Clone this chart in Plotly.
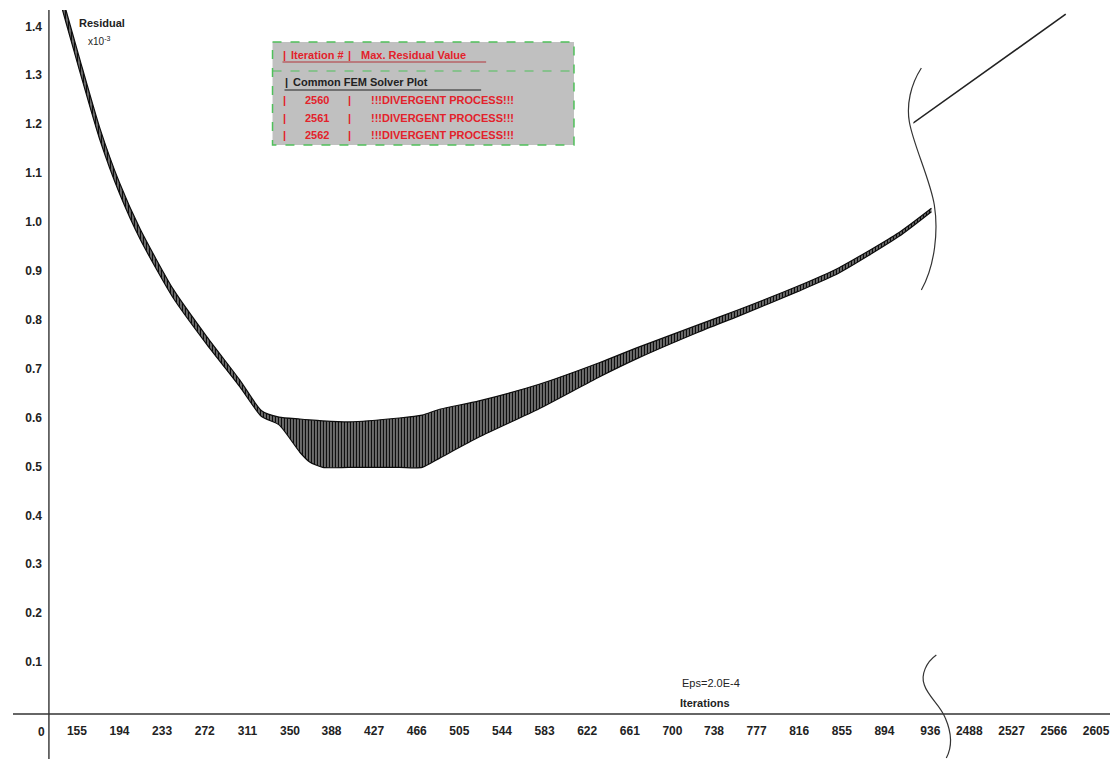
import plotly.graph_objects as go

# page body has an 8px margin: the figure is drawn in reference pixel
# coordinates shifted by that margin
OFF = 8
W, H = 1112, 751

# ---- data ----
iterations = [141, 145, 158, 176, 194, 213, 243, 274, 304, 324, 340, 359, 368, 380,
              404, 450, 471, 487, 523, 578, 633, 669, 724, 761, 815, 852, 907, 937]
residual_max = [1.464, 1.433, 1.330, 1.192, 1.080, 0.985, 0.863, 0.765, 0.677, 0.614,
                0.601, 0.597, 0.595, 0.593, 0.591, 0.599, 0.605, 0.617, 0.634, 0.668,
                0.712, 0.744, 0.790, 0.821, 0.869, 0.906, 0.978, 1.028]
residual_min = [1.440, 1.408, 1.305, 1.168, 1.058, 0.964, 0.845, 0.749, 0.663, 0.602,
                0.585, 0.529, 0.509, 0.498, 0.498, 0.498, 0.498, 0.517, 0.560, 0.618,
                0.683, 0.722, 0.775, 0.808, 0.858, 0.895, 0.970, 1.021]

late_iterations = [2436, 2577]
late_residual = [1.202, 1.425]

x_ticks_1 = [155, 194, 233, 272, 311, 350, 388, 427, 466, 505, 544, 583, 622, 661,
             700, 738, 777, 816, 855, 894, 936]
x_ticks_2 = [2488, 2527, 2566, 2605]
y_ticks = [0.1, 0.2, 0.3, 0.4, 0.5, 0.6, 0.7, 0.8, 0.9, 1.0, 1.1, 1.2, 1.3, 1.4]

table_iter = [2560, 2561, 2562]
table_status = ["!!!DIVERGENT PROCESS!!!"] * 3

# ---- helpers (reference pixel -> paper) ----
def px(x):
    return (x - OFF) / W

def py(y):
    return 1 - (y - OFF) / H

FONT = "Liberation Sans, Arial, sans-serif"
RED = "#e3222b"
INK = "#0d0d0d"

fig = go.Figure()

fig.add_trace(go.Scatter(
    x=iterations, y=residual_min, mode="lines",
    line=dict(color=INK, width=1.2, shape="spline", smoothing=0.6),
    xaxis="x", yaxis="y", showlegend=False, hoverinfo="skip"))
fig.add_trace(go.Scatter(
    x=iterations, y=residual_max, mode="lines",
    line=dict(color=INK, width=1.2, shape="spline", smoothing=0.6),
    xaxis="x", yaxis="y",
    fill="tonexty", fillcolor="#dddddd",
    fillpattern=dict(shape="|", fgcolor="#080808", bgcolor="#e4e4e4",
                     size=3, solidity=0.7, fillmode="replace"),
    showlegend=False, hoverinfo="skip"))
fig.add_trace(go.Scatter(
    x=late_iterations, y=late_residual, mode="lines",
    line=dict(color="#222222", width=1.6), xaxis="x2", yaxis="y",
    showlegend=False, hoverinfo="skip"))

tickfont = dict(family=FONT, size=12, color="#222222", weight="bold")

fig.update_layout(
    width=W, height=H,
    margin=dict(l=0, r=0, t=0, b=0),
    paper_bgcolor="white", plot_bgcolor="rgba(0,0,0,0)",
    showlegend=False,
    xaxis=dict(domain=[px(49), px(940)], range=[129.4, 943.3],
               anchor="free", position=py(714),
               tickmode="array", tickvals=x_ticks_1,
               ticktext=[str(v) for v in x_ticks_1],
               ticks="", ticklabelstandoff=8, tickfont=tickfont,
               showgrid=False, zeroline=False, showline=False),
    xaxis2=dict(domain=[px(915), px(1119)], range=[2436.4, 2624.3],
                anchor="free", position=py(714),
                tickmode="array", tickvals=x_ticks_2,
                ticktext=[str(v) for v in x_ticks_2],
                ticks="", ticklabelstandoff=8, tickfont=tickfont,
                showgrid=False, zeroline=False, showline=False),
    yaxis=dict(domain=[0, py(10)], range=[-0.0984, 1.4335],
               anchor="x", tickmode="array", tickvals=y_ticks,
               ticktext=[f"{v:.1f}" for v in y_ticks],
               ticks="", ticklabelstandoff=6, tickfont=tickfont,
               showgrid=False, zeroline=False, showline=False),
)

shapes = []
# axis lines
shapes.append(dict(type="line", xref="paper", yref="paper",
                   x0=px(49), x1=px(49), y0=py(10), y1=0,
                   line=dict(color="#333333", width=1.4)))
shapes.append(dict(type="line", xref="paper", yref="paper",
                   x0=px(13), x1=px(1112), y0=py(714), y1=py(714),
                   line=dict(color="#333333", width=1.4)))

def path(cmds):
    out = []
    for c in cmds:
        if isinstance(c, str):
            out.append(c)
        else:
            out.append(f"{px(c[0]):.5f},{py(c[1]):.5f}")
    return " ".join(out)

# axis-break marks
shapes.append(dict(type="path", xref="paper", yref="paper",
                   path=path(["M", (923, 68), "C", (912, 85), (908, 105), (911, 122),
                              "C", (915, 145), (932, 180), (936, 205),
                              "C", (940, 230), (937, 265), (923, 290)]),
                   line=dict(color="#333333", width=1.2)))
shapes.append(dict(type="path", xref="paper", yref="paper",
                   path=path(["M", (938, 655), "C", (928, 662), (922, 675), (926, 685),
                              "C", (930, 697), (942, 705), (947, 718),
                              "C", (953, 732), (955, 745), (948, 758)]),
                   line=dict(color="#333333", width=1.2)))

# info box
shapes.append(dict(type="rect", xref="paper", yref="paper",
                   x0=px(273), x1=px(575), y0=py(42), y1=py(145),
                   fillcolor="#c0c0c0",
                   line=dict(color="#4fbf5a", width=1.5, dash="dash"), layer="below"))
shapes.append(dict(type="line", xref="paper", yref="paper",
                   x0=px(273), x1=px(575), y0=py(71), y1=py(71),
                   line=dict(color="#4fbf5a", width=1.2, dash="dash")))
shapes.append(dict(type="line", xref="paper", yref="paper",
                   x0=px(283), x1=px(487), y0=py(62), y1=py(62),
                   line=dict(color="#b2343a", width=1.2)))
shapes.append(dict(type="line", xref="paper", yref="paper",
                   x0=px(285), x1=px(482), y0=py(90), y1=py(90),
                   line=dict(color="#222222", width=1.2)))
fig.update_layout(shapes=shapes)

ann = []

def text(x, y, s, color="#222222", size=11, bold=True, anchor="left"):
    ann.append(dict(x=px(x), y=py(y), xref="paper", yref="paper", text=s,
                    showarrow=False, xanchor=anchor, yanchor="middle",
                    font=dict(family=FONT, size=size, color=color,
                              weight="bold" if bold else "normal")))

text(42, 732, "0", size=12, anchor="center")
text(102, 23, "Residual", size=11, anchor="center")
text(99, 41, "x10<sup>-3</sup>", size=10, bold=False, anchor="center")
text(712, 683, "Eps=2.0E-4", size=11, bold=False, anchor="center")
text(706, 703, "Iterations", size=11, anchor="center")

# box contents
text(285, 55, "|", color=RED, anchor="center")
text(290, 55, "Iteration #", color=RED)
text(350, 55, "|", color=RED, anchor="center")
text(360, 55, "Max. Residual Value", color=RED)
text(287, 82, "|", anchor="center")
text(292, 82, "Common FEM Solver Plot")
for i, (it, st) in enumerate(zip(table_iter, table_status)):
    yy = 100 + i * 17.5
    text(285, yy, "|", color=RED, anchor="center")
    text(318, yy, str(it), color=RED, anchor="center")
    text(350, yy, "|", color=RED, anchor="center")
    text(370, yy, st, color=RED)

fig.update_layout(annotations=ann)

fig.write_html("out.html")
